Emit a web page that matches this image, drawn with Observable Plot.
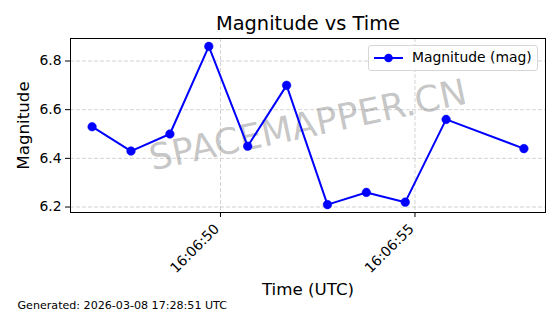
<!DOCTYPE html>
<html>
<head>
<meta charset="utf-8">
<script src="https://cdn.jsdelivr.net/npm/d3@7"></script>
<script src="https://cdn.jsdelivr.net/npm/@observablehq/plot@0.6"></script>
<style>
  html, body { margin: 0; padding: 0; background: #fff; }
  #wrap { position: relative; width: 560px; height: 314px; font-family: "DejaVu Sans", sans-serif; }
  #legend { position: absolute; left: 368px; top: 45px; width: 170px; height: 26px; box-sizing: border-box;
    border: 1px solid #d6d6d6; border-radius: 3px; background: rgba(255,255,255,0.8); font-size: 13.9px; }
  #legend svg { position: absolute; left: 4px; top: 5px; }
  #legend span { position: absolute; left: 43px; top: 3px; color: #000; white-space: nowrap; line-height: 17px; }
</style>
</head>
<body>
<div id="wrap"></div>
<script>
// Data (seconds after 16:06:00 UTC)
const seconds = [46.7, 47.7, 48.7, 49.7, 50.7, 51.7, 52.75, 53.75, 54.75, 55.8, 57.8];
const magnitudes = [6.53, 6.43, 6.50, 6.86, 6.45, 6.70, 6.21, 6.26, 6.22, 6.56, 6.44];
const xTickSeconds = [50, 55];
const yTicks = [6.2, 6.4, 6.6, 6.8];
const titleText = "Magnitude vs Time";
const xLabel = "Time (UTC)";
const yLabel = "Magnitude";
const seriesName = "Magnitude (mag)";
const footerText = "Generated: 2026-03-08 17:28:51 UTC";
const watermark = "SPACEMAPPER.CN";

const base = Date.UTC(2026, 2, 8, 16, 6, 0);
const toDate = s => new Date(base + s * 1000);
const data = seconds.map((s, i) => ({time: toDate(s), mag: magnitudes[i]}));
const xTicks = xTickSeconds.map(toDate);
const fmt = d3.utcFormat("%H:%M:%S");
const color = "#0000ff";

const chart = Plot.plot({
  width: 560,
  height: 314,
  marginLeft: 70,
  marginRight: 15,
  marginTop: 38,
  marginBottom: 102,
  style: {fontFamily: "DejaVu Sans, sans-serif", fontSize: "13.9px", color: "#000", background: "#fff"},
  x: {type: "utc", domain: [toDate(46.145), toDate(58.355)]},
  y: {domain: [6.1775, 6.8925]},
  marks: [
    Plot.gridX(xTicks, {stroke: "#b0b0b0", strokeOpacity: 0.7, strokeDasharray: "4,2", strokeWidth: 0.8}),
    Plot.gridY(yTicks, {stroke: "#b0b0b0", strokeOpacity: 0.7, strokeDasharray: "4,2", strokeWidth: 0.8}),
    Plot.text([watermark], {frameAnchor: "middle", text: d => d, fontSize: 36, fill: "#808080", fillOpacity: 0.45, rotate: -12}),
    Plot.line(data, {x: "time", y: "mag", stroke: color, strokeWidth: 2}),
    Plot.dot(data, {x: "time", y: "mag", r: 4.3, fill: color, stroke: color, strokeWidth: 0.5}),
    Plot.frame({stroke: "#000", strokeWidth: 1}),
    Plot.axisX(xTicks, {tickFormat: () => "", tickSize: 5, label: null}),
    Plot.text(xTicks, {x: d => d, frameAnchor: "bottom", text: d => fmt(d), rotate: -45, textAnchor: "end", lineAnchor: "middle", dx: -3.5, dy: 14, fontSize: 13.9}),
    Plot.axisY(yTicks, {tickFormat: d3.format(".1f"), tickSize: 5, tickPadding: 4, fontSize: 13.9, label: null}),
    Plot.text([titleText], {frameAnchor: "top", text: d => d, dy: -15, lineAnchor: "middle", textAnchor: "middle", fontSize: 19.4}),
    Plot.text([xLabel], {frameAnchor: "bottom", text: d => d, dy: 77, lineAnchor: "middle", textAnchor: "middle", fontSize: 16.7}),
    Plot.text([yLabel], {frameAnchor: "left", text: d => d, dx: -47, rotate: -90, lineAnchor: "middle", textAnchor: "middle", fontSize: 16.7}),
    Plot.text([footerText], {frameAnchor: "bottom-left", text: d => d, dx: -53, dy: 93, textAnchor: "start", lineAnchor: "middle", fontSize: 11.1})
  ]
});
const wrap = document.getElementById("wrap");
wrap.appendChild(chart);

const legend = document.createElement("div");
legend.id = "legend";
legend.innerHTML = `<svg width="34" height="14"><line x1="1" y1="7" x2="30" y2="7" stroke="${color}" stroke-width="2"/><circle cx="15.5" cy="7" r="4.3" fill="${color}"/></svg><span>${seriesName}</span>`;
wrap.appendChild(legend);
</script>
</body>
</html>
